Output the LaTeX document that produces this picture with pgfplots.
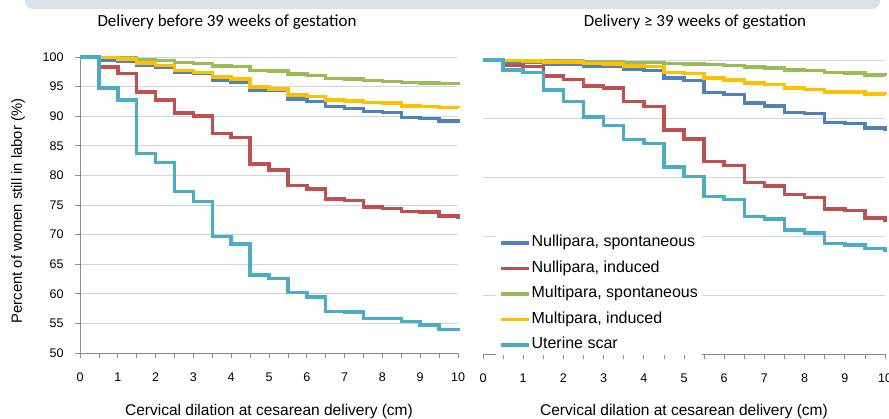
\documentclass[border=0pt]{standalone}
\usepackage{pgfplots}
\pgfplotsset{compat=1.18}
\usepackage{fontspec}
\setmainfont{Liberation Sans}
\newfontfamily\titlefont{Carlito}
\definecolor{cBlue}{HTML}{4F81BD}
\definecolor{cRed}{HTML}{C0504D}
\definecolor{cGreen}{HTML}{9BBB59}
\definecolor{cYellow}{HTML}{FFC000}
\definecolor{cCyan}{HTML}{4BACC6}
\definecolor{gridc}{HTML}{C9D5E8}
\definecolor{axisgray}{HTML}{8C8C8C}
\definecolor{banner}{HTML}{D9E1EA}
\pgfplotsset{
  panel/.style={
    scale only axis, clip=false,
    xmin=0, xmax=10, ymin=50, ymax=100,
    xtick={0,1,...,10}, minor x tick num=1,
    axis x line*=bottom, axis y line*=left,
    tick align=outside,
    major tick length=5pt, minor tick length=5pt,
    tick style={color=axisgray, line width=0.8pt},
    axis line style={color=axisgray, line width=0.9pt},
    ymajorgrids, grid style={color=gridc, line width=0.9pt},
    /pgf/number format/assume math mode=true,
    tick label style={font=\fontsize{12.5}{14}\selectfont, color=black},
    xticklabel style={yshift=-11pt},
    every axis plot/.append style={const plot, no marks, line width=3.5pt},
  }
}
\begin{document}
\begin{tikzpicture}
\useasboundingbox (0pt,0pt) rectangle (889pt,418pt);
\fill[banner, rounded corners=8pt] (25pt,409pt) rectangle (880pt,440pt);
% left panel
\begin{axis}[panel, at={(80pt,65pt)}, anchor=south west, width=378pt, height=296pt,
  ytick={50,55,...,100}, yticklabel style={xshift=-8pt}]
\addplot[cBlue] coordinates {(0,100)(0.5,99.4)(1,99.2)(1.5,98.6)(2,98.3)(2.5,97.4)(3,97.2)(3.5,96.1)(4,95.8)(4.5,94.4)(5,94.3)(5.5,92.9)(6,92.45)(6.5,91.6)(7,91.3)(7.5,90.8)(8,90.6)(8.5,89.75)(9,89.6)(9.5,89.2)(10,88.8)};
\addplot[cRed] coordinates {(0,100)(0.5,98.3)(1,97.2)(1.5,94.1)(2,92.7)(2.5,90.5)(3,90.0)(3.5,87.1)(4,86.4)(4.5,81.9)(5,80.9)(5.5,78.3)(6,77.7)(6.5,76.0)(7,75.8)(7.5,74.7)(8,74.4)(8.5,73.9)(9,73.8)(9.5,73.1)(10,72.7)};
\addplot[cGreen] coordinates {(0,100)(0.5,99.9)(1,99.85)(1.5,99.5)(2,99.4)(2.5,99.1)(3,98.9)(3.5,98.5)(4,98.4)(4.5,97.7)(5,97.6)(5.5,97.1)(6,96.9)(6.5,96.4)(7,96.3)(7.5,96.0)(8,95.9)(8.5,95.7)(9,95.65)(9.5,95.5)(10,95.4)};
\addplot[cYellow] coordinates {(0,100)(0.5,99.9)(1,99.7)(1.5,99.0)(2,98.6)(2.5,97.7)(3,97.4)(3.5,96.6)(4,96.3)(4.5,94.9)(5,94.6)(5.5,93.6)(6,93.3)(6.5,92.7)(7,92.6)(7.5,92.3)(8,92.2)(8.5,91.7)(9,91.65)(9.5,91.5)(10,91.4)};
\addplot[cCyan] coordinates {(0,100)(0.5,94.8)(1,92.7)(1.5,83.7)(2,82.2)(2.5,77.3)(3,75.6)(3.5,69.7)(4,68.4)(4.5,63.2)(5,62.6)(5.5,60.2)(6,59.5)(6.5,57.0)(7,56.9)(7.5,55.85)(8,55.8)(8.5,55.3)(9,54.7)(9.5,53.95)(10,53.9)};
\end{axis}
% right panel
\begin{axis}[panel, at={(483pt,64pt)}, anchor=south west, width=402pt, height=294pt,
  ytick={50,60,...,100}, yticklabels={},
  y axis line style={draw=none}, major y tick style={draw=none},
  legend style={at={(0.032,0.413)}, anchor=north west, draw=none, fill=white,
    font=\fontsize{16}{18}\selectfont, row sep=11.5pt, inner xsep=3pt, inner ysep=3pt,
    nodes={inner xsep=1pt, inner ysep=0pt, text height=11pt, text depth=3pt}},
  legend cell align=left,
  legend image code/.code={\draw[#1, line width=3.5pt] (0pt,0pt) -- (28pt,0pt);}]
\addplot[cBlue] coordinates {(0,100)(0.5,99.7)(1,99.6)(1.5,99.3)(2,99.25)(2.5,99.0)(3,98.9)(3.5,98.4)(4,98.2)(4.5,96.9)(5,96.5)(5.5,94.5)(6,94.1)(6.5,92.7)(7,92.2)(7.5,91.1)(8,90.9)(8.5,89.4)(9,89.2)(9.5,88.4)(10,87.85)};
\addlegendentry{Nullipara, spontaneous}
\addplot[cRed] coordinates {(0,100)(0.5,99.1)(1,98.9)(1.5,97.3)(2,96.7)(2.5,95.6)(3,95.2)(3.5,92.9)(4,92.1)(4.5,88.1)(5,86.6)(5.5,82.7)(6,82.1)(6.5,79.2)(7,78.6)(7.5,77.1)(8,76.6)(8.5,74.7)(9,74.4)(9.5,73.1)(10,72.5)};
\addlegendentry{Nullipara, induced}
\addplot[cGreen] coordinates {(0,100)(0.5,99.95)(1,99.9)(1.5,99.85)(2,99.85)(2.5,99.75)(3,99.7)(3.5,99.6)(4,99.55)(4.5,99.4)(5,99.35)(5.5,99.2)(6,99.1)(6.5,98.8)(7,98.6)(7.5,98.3)(8,98.2)(8.5,97.85)(9,97.75)(9.5,97.45)(10,97.3)};
\addlegendentry{Multipara, spontaneous}
\addplot[cYellow] coordinates {(0,100)(0.5,99.9)(1,99.85)(1.5,99.7)(2,99.65)(2.5,99.4)(3,99.3)(3.5,99.0)(4,98.9)(4.5,97.9)(5,97.7)(5.5,96.9)(6,96.6)(6.5,96.05)(7,95.8)(7.5,95.2)(8,95.0)(8.5,94.6)(9,94.55)(9.5,94.2)(10,94.0)};
\addlegendentry{Multipara, induced}
\addplot[cCyan] coordinates {(0,100)(0.5,98.3)(1,97.9)(1.5,94.9)(2,92.9)(2.5,90.3)(3,88.9)(3.5,86.5)(4,85.8)(4.5,81.8)(5,80.2)(5.5,76.8)(6,76.3)(6.5,73.4)(7,73.0)(7.5,71.1)(8,70.6)(8.5,68.8)(9,68.5)(9.5,67.9)(10,67.4)};
\addlegendentry{Uterine scar}
\end{axis}
% titles and labels
\node[anchor=base, font=\titlefont\fontsize{17}{20}\selectfont] at (227pt,391pt) {Delivery before 39 weeks of gestation};
\node[anchor=base, font=\titlefont\fontsize{17}{20}\selectfont] at (695pt,391pt) {Delivery ≥ 39 weeks of gestation};
\node[rotate=90, anchor=center, font=\fontsize{14.8}{17}\selectfont] at (18pt,207pt) {Percent of women still in labor (\%)};
\node[anchor=base, font=\fontsize{15.5}{18}\selectfont] at (269pt,3pt) {Cervical dilation at cesarean delivery (cm)};
\node[anchor=base, font=\fontsize{15.5}{18}\selectfont] at (684pt,3pt) {Cervical dilation at cesarean delivery (cm)};
\end{tikzpicture}
\end{document}
